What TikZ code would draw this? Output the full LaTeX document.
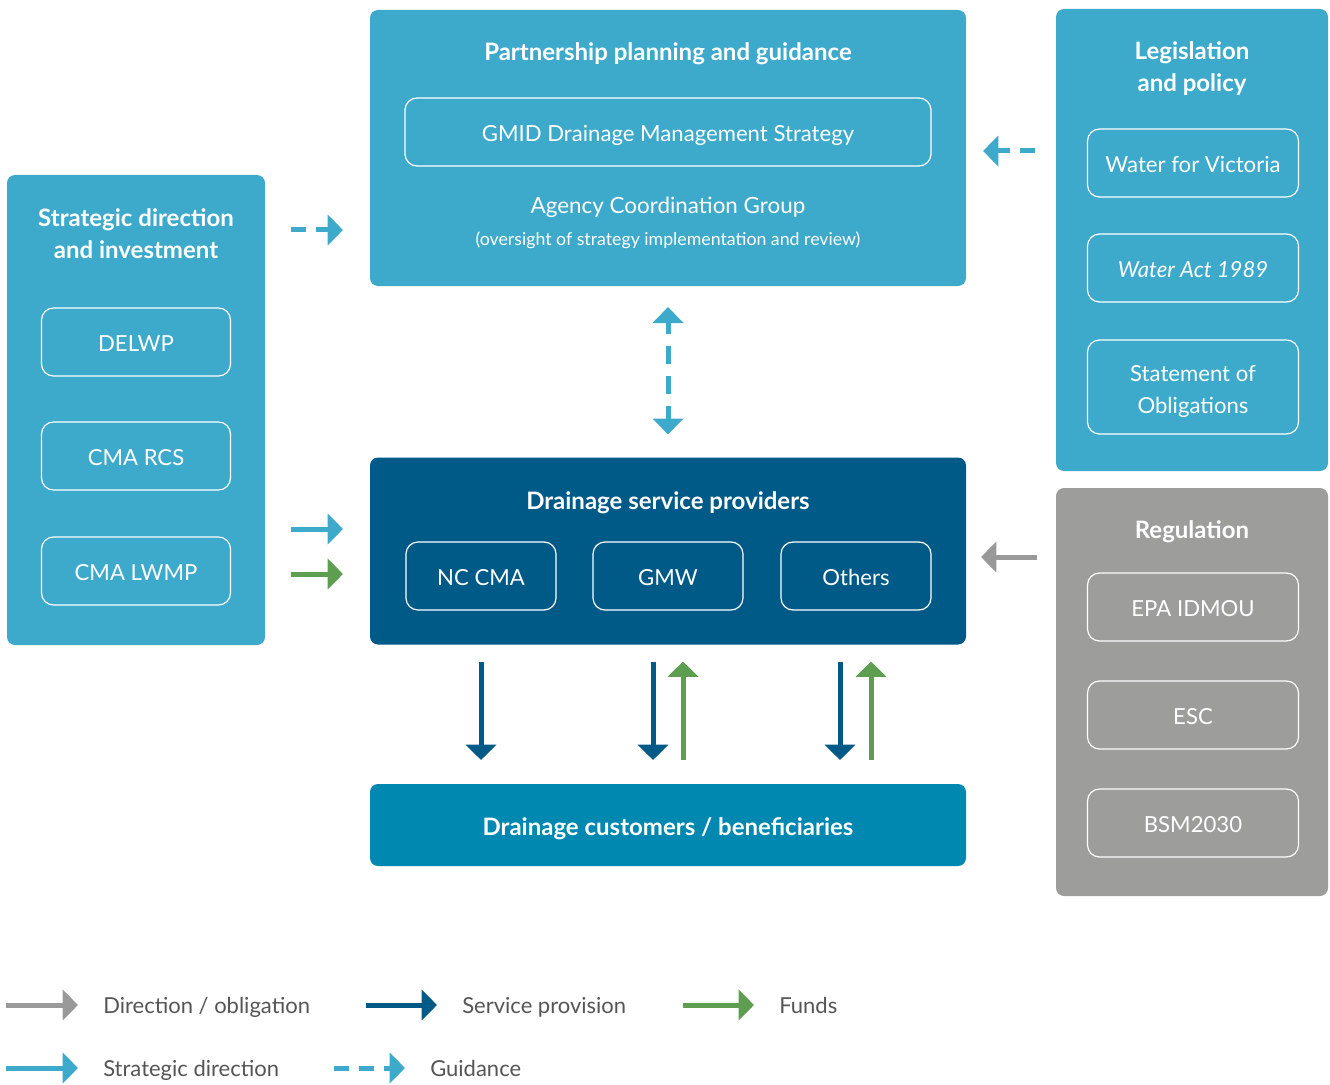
\documentclass[tikz,border=0pt]{standalone}
\usepackage{fontspec}
\setmainfont{Lato}
\usetikzlibrary{arrows.meta}
\definecolor{sky}{HTML}{3DAACB}
\definecolor{navy}{HTML}{005A87}
\definecolor{deepteal}{HTML}{0088B0}
\definecolor{stone}{HTML}{9D9D9C}
\definecolor{stonearrow}{HTML}{999999}
\definecolor{leaf}{HTML}{5E9E50}
\definecolor{ink}{HTML}{555555}
\begin{document}
\begin{tikzpicture}[x=0.75pt,y=-0.75pt,
  dim/.style 2 args={minimum width=#1*0.75pt, minimum height=#2*0.75pt},
  panel/.style={rounded corners=6pt, inner sep=0pt, outer sep=0pt},
  sub/.style={draw=white, line width=0.9pt, rounded corners=9pt, text=white,
    font=\fontsize{16.6}{24}\selectfont, align=center, inner sep=0pt,
    text height=17pt, text depth=2.8pt},
  title/.style={text=white, font=\bfseries\fontsize{18}{24}\selectfont, align=center, inner sep=0pt},
  plain/.style={text=white, font=\fontsize{16.8}{20}\selectfont, align=center, inner sep=0pt},
  legtext/.style={text=ink, font=\fontsize{16.5}{20}\selectfont, anchor=west, inner sep=0pt,
    text height=16pt, text depth=4pt},
  flow/.style={line width=3.75pt, -{Triangle[width=22.5pt,length=11.5pt]}},
  guide/.style={flow, sky, dash pattern=on 11.25pt off 7.5pt},
  strat/.style={flow, sky},
  serv/.style={flow, navy},
  fund/.style={flow, leaf},
  oblig/.style={flow, stonearrow},
]
\useasboundingbox (0,0) rectangle (1330,1084);

% ---- Strategic direction panel ----
\node[panel, fill=sky, dim={258}{470}] (stratp) at (136,410) {};
\node[title] (stratt) at (136,234) {Strategic direction\\and investment};
\node[sub, fill=sky, dim={189}{68}] (delwp) at (136,342) {DELWP};
\node[sub, fill=sky, dim={189}{68}] (rcs) at (136,456) {CMA RCS};
\node[sub, fill=sky, dim={189}{68}] (lwmp) at (136,571) {CMA LWMP};

% ---- Partnership planning panel ----
\node[panel, fill=sky, dim={596}{276}] (plan) at (668,148) {};
\node[title] (plant) at (668,54) {Partnership planning and guidance};
\node[sub, fill=sky, dim={526}{68}] (gmid) at (668,132) {GMID Drainage Management Strategy};
\node[plain] (acg) at (668,207) {Agency Coordination Group};
\node[plain, font=\fontsize{13.3}{16}\selectfont] (acgn) at (668,240) {(oversight of strategy implementation and review)};

% ---- Legislation panel ----
\node[panel, fill=sky, dim={272}{462}] (legis) at (1192,240) {};
\node[title] (legist) at (1192,69) {Legislation\\and policy};
\node[sub, fill=sky, dim={211}{68}] (wfv) at (1193,163) {Water for Victoria};
\node[sub, fill=sky, dim={211}{68}, font=\itshape\fontsize{16.6}{24}\selectfont] (wact) at (1193,268) {Water Act 1989};
\node[sub, fill=sky, dim={211}{94}, text height=43pt, text depth=4pt] (sob) at (1193,387) {Statement of\\Obligations};

% ---- Drainage service providers ----
\node[panel, fill=navy, dim={596}{187}] (prov) at (668,551) {};
\node[title] (provt) at (668,503) {Drainage service providers};
\node[sub, fill=navy, dim={150}{68}] (nccma) at (481,576) {NC CMA};
\node[sub, fill=navy, dim={150}{68}] (gmw) at (668,576) {GMW};
\node[sub, fill=navy, dim={150}{68}] (others) at (856,576) {Others};

% ---- Customers ----
\node[panel, fill=deepteal, dim={596}{82}] (cust) at (668,825) {};
\node[title] (custt) at (668,829) {Drainage customers / beneficiaries};

% ---- Regulation panel ----
\node[panel, fill=stone, dim={272}{408}] (reg) at (1192,692) {};
\node[title] (regt) at (1192,532) {Regulation};
\node[sub, fill=stone, dim={211}{68}] (epa) at (1193,607) {EPA IDMOU};
\node[sub, fill=stone, dim={211}{68}] (esc) at (1193,715) {ESC};
\node[sub, fill=stone, dim={211}{68}] (bsm) at (1193,823) {BSM2030};

% ---- Connectors ----
\draw[guide, shorten <=19.5pt, shorten >=20.25pt] (stratp.east |- 0,230) -- (plan.west |- 0,230);
\draw[guide, shorten <=15.75pt, shorten >=12.75pt] (legis.west |- 0,151) -- (plan.east |- 0,151);
\draw[guide, {Triangle[width=22.5pt,length=12pt]}-{Triangle[width=22.5pt,length=12pt]},
  dash pattern=on 13.5pt off 9pt, dash phase=4.5pt, shorten <=15.75pt, shorten >=17.25pt]
  (plan.south) -- (prov.north);
\draw[strat, shorten <=19.5pt, shorten >=20.25pt] (stratp.east |- 0,529) -- (prov.west |- 0,529);
\draw[fund, shorten <=19.5pt, shorten >=20.25pt] (stratp.east |- 0,574) -- (prov.west |- 0,574);
\draw[oblig, shorten <=14.25pt, shorten >=11.25pt] (reg.west |- 0,557) -- (prov.east |- 0,557);

\foreach \xx in {481,653,840}
  \draw[serv, shorten <=12.75pt, shorten >=18pt] (prov.south -| \xx,0) -- (cust.north -| \xx,0);
\foreach \xx in {683,871}
  \draw[fund, shorten <=18pt, shorten >=12.75pt] (cust.north -| \xx,0) -- (prov.south -| \xx,0);

% ---- Legend ----
\coordinate (l1a) at (6,1005);   \coordinate (l1b) at (78,1005);
\coordinate (l2a) at (366,1005); \coordinate (l2b) at (437,1005);
\coordinate (l3a) at (683,1005); \coordinate (l3b) at (754,1005);
\coordinate (l4a) at (6,1068);   \coordinate (l4b) at (78,1068);
\coordinate (l5a) at (334,1068); \coordinate (l5b) at (405,1068);
\draw[oblig] (l1a) -- (l1b);
\draw[serv] (l2a) -- (l2b);
\draw[fund] (l3a) -- (l3b);
\draw[strat] (l4a) -- (l4b);
\draw[guide] (l5a) -- (l5b);
\node[legtext] (t1) at (103,1005) {Direction / obligation};
\node[legtext] (t2) at (462,1005) {Service provision};
\node[legtext] (t3) at (779,1005) {Funds};
\node[legtext] (t4) at (103,1068) {Strategic direction};
\node[legtext] (t5) at (430,1068) {Guidance};
\end{tikzpicture}
\end{document}
